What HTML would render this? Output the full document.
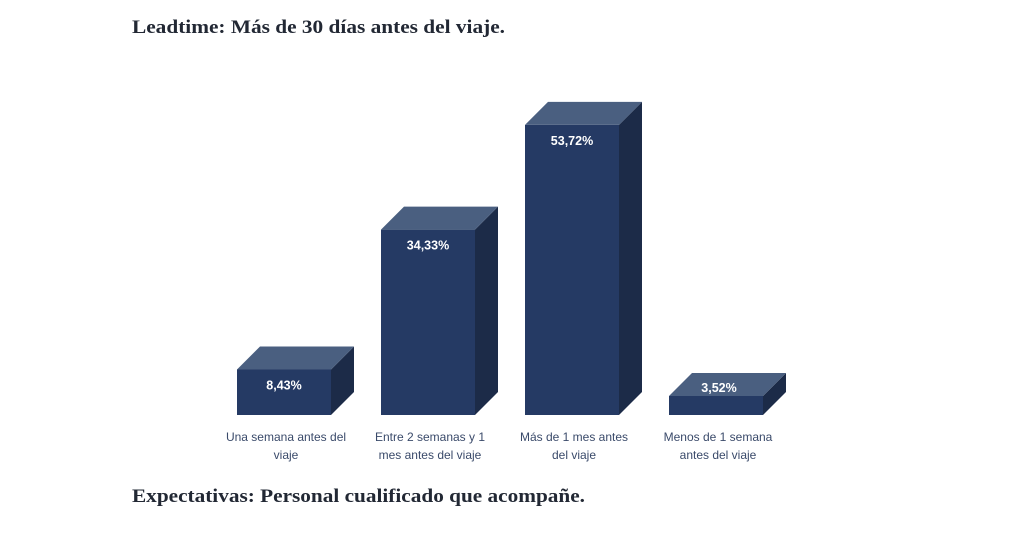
<!DOCTYPE html>
<html><head><meta charset="utf-8"><style>
html,body{margin:0;padding:0;background:#fff;width:1024px;height:538px;overflow:hidden}
svg{display:block}
</style></head><body>
<svg id="c" width="1024" height="538" xmlns="http://www.w3.org/2000/svg">
<text x="132" y="33" font-family="Liberation Serif, serif" font-weight="bold" font-size="19" fill="#222834" textLength="373" lengthAdjust="spacingAndGlyphs">Leadtime: Más de 30 días antes del viaje.</text>
<text x="132" y="502" font-family="Liberation Serif, serif" font-weight="bold" font-size="19" fill="#222834" textLength="453" lengthAdjust="spacingAndGlyphs">Expectativas: Personal cualificado que acompañe.</text>
<g id="bars"></g>
</svg>
<script>
const categories=[["Una semana antes del","viaje"],["Entre 2 semanas y 1","mes antes del viaje"],["Más de 1 mes antes","del viaje"],["Menos de 1 semana","antes del viaje"]];
const values=[8.43,34.33,53.72,3.52];
const valueLabels=["8,43%","34,33%","53,72%","3,52%"];
const NS="http://www.w3.org/2000/svg";
const g=document.getElementById('bars');
const base=415, scale=5.4, x0=237, step=144, w=94, d=23;
function y(v){return base-v*scale;}
function xAt(i){return x0+i*step;}
function mk(tag,attrs){const e=document.createElementNS(NS,tag);for(const k in attrs)e.setAttribute(k,attrs[k]);g.appendChild(e);return e;}
values.forEach((v,i)=>{
  const x=xAt(i), t=y(v);
  const front=mk('rect',{x:x,y:t,width:w,height:base-t,fill:'#253a64'});
  
  
  const side=mk('polygon',{points:`${x+w},${t} ${x+w+d},${t-d} ${x+w+d},${base-d} ${x+w},${base}`,fill:'#1c2b48'});
  
  
  const top=mk('polygon',{points:`${x},${t} ${x+d},${t-d} ${x+w+d},${t-d} ${x+w},${t}`,fill:'#4a5f80'});
  
  
  const lblY = (base-t)>30 ? t+20 : t-4;
  const lbl=mk('text',{x:x+w/2+((base-t)>30?0:3),y:lblY,'text-anchor':'middle','font-family':'Liberation Sans, sans-serif','font-weight':'bold','font-size':'12.5',fill:'#fff'});
  lbl.textContent=valueLabels[i];
  
  
  categories[i].forEach((line,j)=>{
    const c=mk('text',{x:x+w/2+2,y:441+j*18,'text-anchor':'middle','font-family':'Liberation Sans, sans-serif','font-size':'12',fill:'#3a4a6a'});
    c.textContent=line;
    
    
  });
});
</script>
</body></html>
